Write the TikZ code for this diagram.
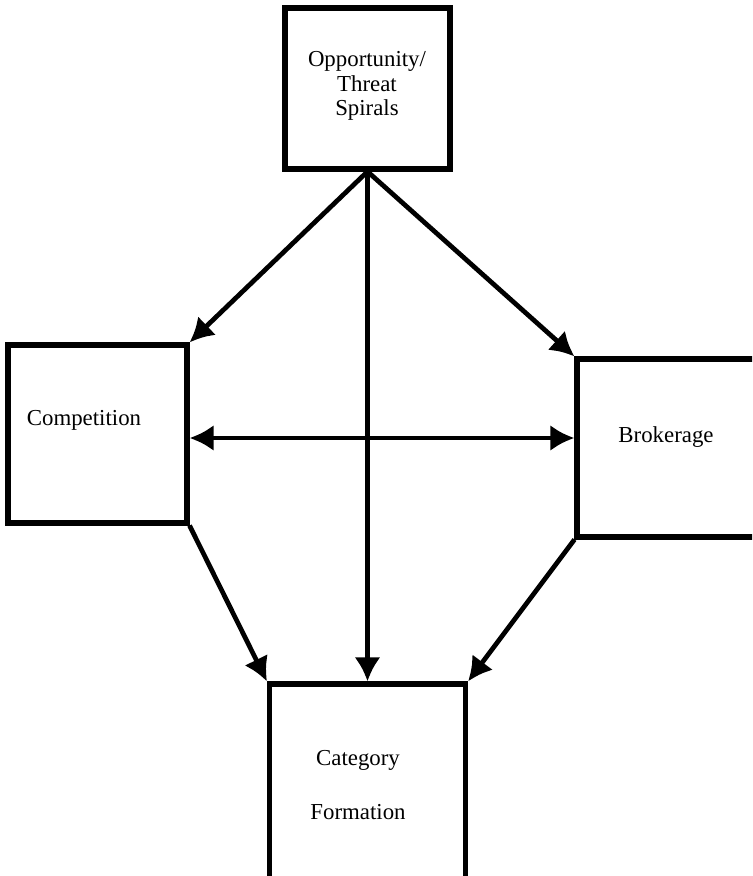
\documentclass[tikz,border=0pt]{standalone}
\usepackage{fontspec}
\setmainfont{Liberation Serif}
\usetikzlibrary{arrows.meta}
\tikzstyle{panel}=[draw, line width=2.9pt, inner sep=0pt]
\tikzstyle{link}=[line width=2.7pt, >={Latex[length=0.48cm, width=0.52cm]}]
\newcommand{\panel}{\node[panel]}
\newcommand{\lbl}{\node[font=\fontsize{13}{14}\selectfont, align=center]}

\begin{document}
\begin{tikzpicture}[x=0.02cm, y=-0.02cm]
\useasboundingbox (0,0) rectangle (752,876);
\clip (0,0) rectangle (752,876);
\panel[minimum width=3.3cm, minimum height=3.22cm] (ots) at (367.5,88.5) {};
\panel[minimum width=3.58cm, minimum height=3.56cm] (comp) at (97.5,434) {};
\panel[minimum width=4.46cm, minimum height=3.56cm] (brok) at (688.5,448) {};
\panel[minimum width=3.92cm, minimum height=4.32cm] (cat) at (367.5,792) {};
\lbl (otstext) at (367,86) {Opportunity/\\Threat\\Spirals};
\lbl (comptext) at (84,420) {Competition};
\lbl (broktext) at (666,437) {Brokerage};
\lbl (cattext) at (358,760) {Category};
\lbl (formtext) at (358,812) {Formation};
\draw[link, ->] (ots.south) -- (comp.north east);
\draw[link, ->] (ots.south) -- (brok.north west);
\draw[link, ->] (ots.south) -- (cat.north);
\draw[link, <->] ([yshift=-0.08cm]comp.east) -- ([yshift=-0.08cm]comp.east -| brok.west);
\draw[link, ->] (comp.south east) -- (cat.north west);
\draw[link, ->] (brok.south west) -- (cat.north east);
\end{tikzpicture}
\end{document}
